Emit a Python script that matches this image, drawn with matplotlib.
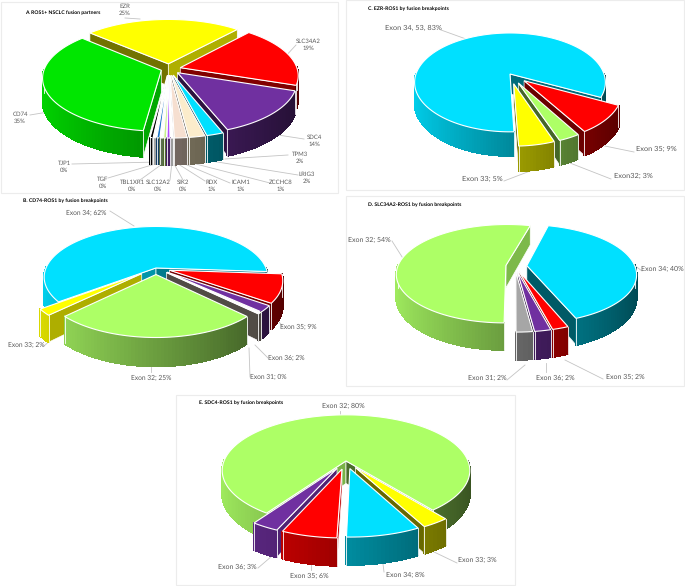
import numpy as np
import matplotlib
matplotlib.use("Agg")
import matplotlib.pyplot as plt
from matplotlib.colors import to_rgb
from matplotlib.patches import Polygon, Rectangle

plt.rcParams['font.family'] = ['Lato', 'DejaVu Sans']
plt.rcParams['text.hinting'] = 'none'

CYAN = '#00e0ff'
RED = '#ff0000'
YELLOW = '#ffff00'
LIME = '#adff66'
PURPLE = '#7030a0'
GREY = '#a6a6a6'
TEXT = '#595959'

# panel A
a_names = ['EZR', 'SLC34A2', 'SDC4', 'TPM3', 'LRIG3', 'ZCCHC8', 'ICAM1', 'RDX', 'SIK2',
           'SLC12A2', 'TBL1XR1', 'TGF', 'TJP1', 'CD74']
a_pct = [25, 19, 14, 2, 2, 1, 1, 1, 0, 0, 0, 0, 0, 35]
# the "0%" slices still have some width in the picture
a_values = [25, 19, 14, 2, 1.9, 1.5, 0.35, 0.35, 0.35, 0.35, 0.35, 0.35, 0.35, 35]
a_colors = ['#ffff00', '#ff0000', '#7030a0', '#00e0ff', '#fbeccb', '#f6dfd0', '#ffffff', '#b34dff',
            '#c6f08a', '#ffffff', '#1f77c8', '#ffffff', '#000000', '#00e600']
a_walls = ['#ffff00', '#ff0000', '#7030a0', '#00a8c0', '#c4b896', '#c0ada0', '#ffffff', '#7030a0',
           '#7fae4a', '#8fae7a', '#1f5f9a', '#ffffff', '#000000', '#00e600']

# panel B
b_labels = ['Exon 34; 62%', 'Exon 35; 9%', 'Exon 36; 2%', 'Exon 31; 0%', 'Exon 32; 25%', 'Exon 33; 2%']
b_values = [62, 9, 2, 0.5, 25, 2]
b_colors = [CYAN, RED, PURPLE, '#ffffff', LIME, YELLOW]
b_walls = [CYAN, RED, PURPLE, '#b8aca0', LIME, YELLOW]

# panel C
c_labels = ['Exon 34, 53, 83%', 'Exon 35; 9%', 'Exon32; 3%', 'Exon 33; 5%']
c_values = [83, 9, 3, 5]
c_colors = [CYAN, RED, LIME, YELLOW]

# panel D
d_labels = ['Exon 32; 54%', 'Exon 34; 40%', 'Exon 35; 2%', 'Exon 36; 2%', 'Exon 31; 2%']
d_values = [54, 40, 2, 2, 2]
d_colors = [LIME, CYAN, RED, PURPLE, GREY]

# panel E
e_labels = ['Exon 32; 80%', 'Exon 33; 3%', 'Exon 34; 8%', 'Exon 35; 6%', 'Exon 36; 3%']
e_values = [80, 3, 8, 6, 3]
e_colors = [LIME, YELLOW, CYAN, RED, PURPLE]


def shade(color, s):
    return tuple(min(1, c * s) for c in to_rgb(color))


def project(X, Y, z, p):
    w = 1 - p['k'] * Y
    return p['cx'] + p['rx'] * X / w, p['cy'] + p['ry'] * Y / w + p['depth'] * (1 - p['k']) * z / w


def side_face(ax, ex, ey, ang, normal, color, p, zo):
    ny = -np.cos(normal)
    if ny <= 0:
        return
    nx = np.sin(normal)
    c = shade(color, 0.56 + 0.17 * nx)
    rx_, ry_ = ex + np.sin(ang), ey - np.cos(ang)
    pts = [project(ex, ey, 0, p), project(rx_, ry_, 0, p), project(rx_, ry_, 1, p), project(ex, ey, 1, p)]
    ax.add_patch(Polygon(pts, closed=True, fc=c, ec='white', lw=0.5, zorder=zo))


def draw_pie(ax, values, colors, explode, p, walls=None):
    values = np.array(values, dtype=float)
    spans = values / values.sum() * 2 * np.pi
    starts = np.radians(p['start']) + np.concatenate([[0], np.cumsum(spans)[:-1]])
    if walls is None:
        walls = colors

    order = []
    for i in range(len(values)):
        mid = starts[i] + spans[i] / 2
        ex, ey = explode[i] * np.sin(mid), -explode[i] * np.cos(mid)
        t = np.linspace(starts[i], starts[i] + spans[i], max(3, int(np.degrees(spans[i]) / 1.5)))
        order.append((ey + np.mean(-np.cos(t)) * 0.7, i, ex, ey, t))
    order.sort(key=lambda o: o[0])

    zo = 2
    for _, i, ex, ey, t in order:
        zo += 1
        side_face(ax, ex, ey, t[0], t[0] - np.pi / 2, walls[i], p, zo)
        side_face(ax, ex, ey, t[-1], t[-1] + np.pi / 2, walls[i], p, zo)
        X = ex + np.sin(t)
        Y = ey - np.cos(t)
        # outer wall, split up for the left to right gradient
        for j in range(len(t) - 1):
            if -np.cos(t[j]) <= 0 and -np.cos(t[j + 1]) <= 0:
                continue
            s = np.clip(0.62 - 0.3 * np.sin(t[j]), 0.3, 0.95)
            c = shade(walls[i], s)
            pts = [project(X[j], Y[j], 0, p), project(X[j + 1], Y[j + 1], 0, p),
                   project(X[j + 1], Y[j + 1], 1, p), project(X[j], Y[j], 1, p)]
            ax.add_patch(Polygon(pts, closed=True, fc=c, ec=c, lw=0.8, antialiased=False, zorder=zo))
        # white ends of the wall
        front = -np.cos(t) > 0
        if front.any():
            k0, k1 = np.where(front)[0][[0, -1]]
            for k in (k0, k1):
                x0, y0 = project(X[k], Y[k], 0, p)
                x1, y1 = project(X[k], Y[k], 1, p)
                ax.plot([x0, x1], [y0, y1], color='white', lw=0.6, zorder=zo)
        top = [project(ex, ey, 0, p)] + [project(a, b, 0, p) for a, b in zip(X, Y)]
        ax.add_patch(Polygon(top, closed=True, fc=colors[i], ec='white', lw=0.8, zorder=zo))


def leader(ax, xs, ys):
    ax.plot(xs, ys, color='#c4c4c4', lw=0.6, zorder=1.5)


def label(ax, x, y, s, size=4.9, ha='center'):
    ax.text(x, y, s, fontsize=size, color=TEXT, ha=ha, va='center', zorder=30, linespacing=1.25)


def title(ax, x, y, s):
    ax.text(x, y, s, fontsize=3.7, color='black', fontweight='bold', ha='left', va='center', zorder=30)


def main():
    fig = plt.figure(figsize=(6.85, 5.86), dpi=100)
    ax = fig.add_axes([0, 0, 1, 1])
    ax.set_xlim(0, 685)
    ax.set_ylim(586, 0)
    ax.axis('off')

    # faint panel frames
    for x, y, w, h in [(1, 2, 337, 191), (346, 0, 338, 190), (346, 196, 338, 190), (176, 395, 339, 190)]:
        ax.add_patch(Rectangle((x, y), w, h, fc='white', ec='#ececec', lw=0.8, zorder=0))

    # A
    pa = dict(cx=169, cy=69, rx=117, ry=52, k=0.14, depth=26, start=-48)
    a_exp = [0.1] * 3 + [0.12] * 10 + [0.07]
    draw_pie(ax, a_values, a_colors, a_exp, pa, a_walls)
    a_pos = [(125, 10), (308, 45), (314, 141), (300, 158), (307, 178), (281, 186), (241, 186),
             (212, 186), (183, 186), (158, 186), (132, 186), (103, 183), (64, 167), (20, 118)]
    a_lines = [([125, 140], [18, 19]), ([296, 284], [45, 58]), ([304, 278], [139, 135]),
               ([288, 225], [155, 159]), ([298, 205], [175, 160]), ([270, 188], [183, 162]),
               ([230, 180], [183, 162]), ([205, 175], [181, 162]), ([183, 173], [180, 162]),
               ([170, 172], [180, 162]), ([140, 165], [180, 162]), ([108, 162], [178, 162]),
               ([72, 158], [164, 162]), ([30, 48], [115, 112])]
    for (x, y), n, v, ln in zip(a_pos, a_names, a_pct, a_lines):
        label(ax, x, y, f'{n}\n{v}%', size=4.3)
        leader(ax, *ln)
    title(ax, 25, 13, 'A. ROS1+ NSCLC fusion partners')

    # B
    pb = dict(cx=156, cy=268, rx=110, ry=49, k=0.18, depth=28, start=-128)
    b_exp = [0.0, 0.13, 0.13, 0.13, 0.13, 0.17]
    draw_pie(ax, b_values, b_colors, b_exp, pb, b_walls)
    b_pos = [(86, 213), (298, 327), (286, 358), (268, 377), (151, 378), (26, 345)]
    b_lines = [([110, 134], [211, 226]), ([283, 276], [327, 318]), ([268, 255], [358, 345]),
               ([250, 249], [377, 348]), ([151, 151], [372, 367]), ([44, 55], [346, 336])]
    for (x, y), s, ln in zip(b_pos, b_labels, b_lines):
        label(ax, x, y, s, size=4.8)
        leader(ax, *ln)
    title(ax, 23, 201, 'B. CD74-ROS1 by fusion breakpoints')

    # C
    pc = dict(cx=510, cy=74, rx=94, ry=48, k=0.17, depth=24, start=-182)
    c_exp = [0.0, 0.2, 0.2, 0.2]
    draw_pie(ax, c_values, c_colors, c_exp, pc)
    c_pos = [(413, 28), (656, 149), (633, 176), (482, 179)]
    c_lines = [([441, 466], [30, 39]), ([634, 600], [152, 145]), ([611, 570], [179, 163]),
               ([504, 538], [181, 168])]
    for (x, y), s, ln in zip(c_pos, c_labels, c_lines):
        label(ax, x, y, s, size=5.3)
        leader(ax, *ln)
    title(ax, 368, 9, 'C. EZR-ROS1 by fusion breakpoints')

    # D
    pd_ = dict(cx=515, cy=266, rx=108, ry=48, k=0.167, depth=27, start=180)
    d_exp = [0.085, 0.11, 0.12, 0.12, 0.12]
    draw_pie(ax, d_values, d_colors, d_exp, pd_)
    d_pos = [(369, 240), (662, 269), (625, 377), (555, 378), (487, 378)]
    d_lines = [([392, 404], [241, 260]), ([642, 630], [271, 262]), ([603, 565], [379, 360]),
               ([546, 546], [372, 363]), ([507, 525], [380, 365])]
    for (x, y), s, ln in zip(d_pos, d_labels, d_lines):
        label(ax, x, y, s, size=5.0)
        leader(ax, *ln)
    title(ax, 368, 205, 'D. SLC34A2-ROS1 by fusion breakpoints')

    # E
    pe = dict(cx=346, cy=461, rx=122, ry=54, k=0.17, depth=27, start=214)
    e_exp = [0.0, 0.14, 0.14, 0.15, 0.15]
    draw_pie(ax, e_values, e_colors, e_exp, pe)
    e_pos = [(343, 406), (477, 560), (405, 575), (309, 576), (237, 567)]
    e_lines = [([340, 340], [411, 417]), ([457, 432], [563, 551]), ([384, 383], [572, 564]),
               ([311, 311], [570, 564]), ([258, 272], [568, 556])]
    for (x, y), s, ln in zip(e_pos, e_labels, e_lines):
        label(ax, x, y, s, size=5.0)
        leader(ax, *ln)
    title(ax, 199, 403, 'E. SDC4-ROS1 by fusion breakpoints')

    fig.savefig('out.png', dpi=100)


if __name__ == "__main__":
    main()
